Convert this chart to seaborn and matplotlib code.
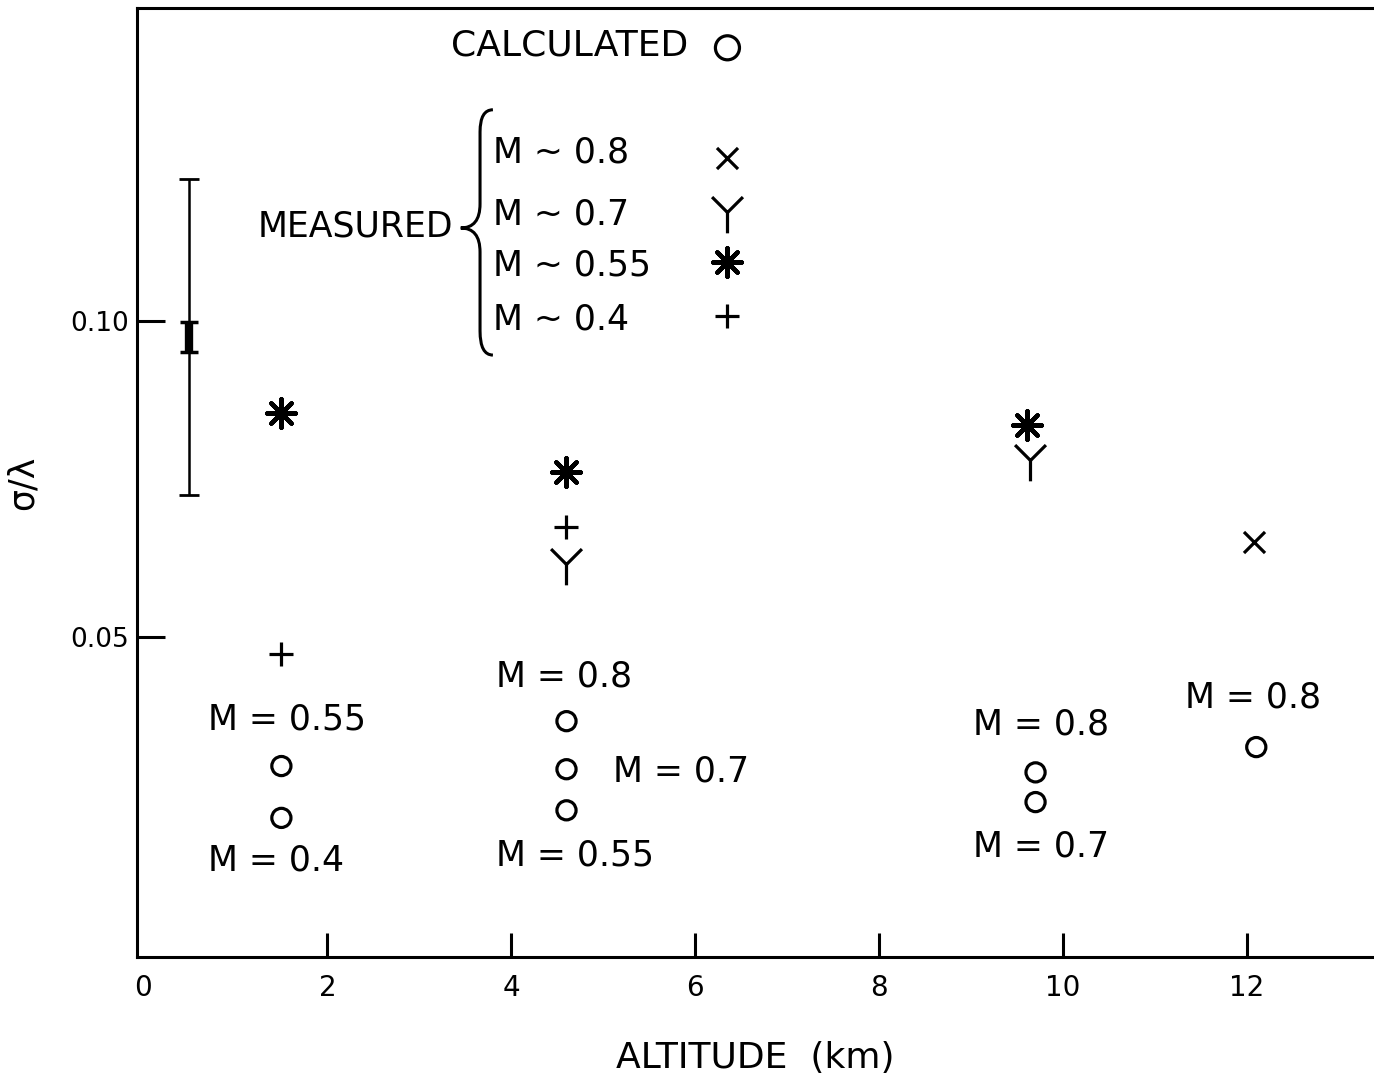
# sigma/lambda vs altitude, calculated vs measured
import numpy as np
import pandas as pd
import matplotlib
matplotlib.use("Agg")
import matplotlib.pyplot as plt
from matplotlib.path import Path
import matplotlib.patches as mpatches
import seaborn as sns

# --- data ---
calc_alt = [1.5, 1.5, 4.6, 4.6, 4.6, 9.7, 9.7, 12.1]
calc_sig = [0.0296, 0.0214, 0.0367, 0.0291, 0.0226, 0.0286, 0.0239, 0.0326]

m08_alt = [12.07]
m08_sig = [0.0650]
m07_alt = [4.6, 9.64]
m07_sig = [0.0616, 0.0780]
m055_alt = [1.5, 4.6, 9.61]
m055_sig = [0.0854, 0.0761, 0.0835]
m04_alt = [1.5, 4.6]
m04_sig = [0.0473, 0.0674]

# error bar near the ground
err_alt = [0.5]
err_lo, err_hi = 0.0725, 0.1225
bold_lo, bold_hi = 0.0951, 0.0998

xtick_vals = [0, 2, 4, 6, 8, 10, 12]
ytick_vals = [0.05, 0.10]
ytick_labels = ["0.05", "0.10"]

# labels next to calculated points: (text, x, y)
calc_notes = [
    ("M = 0.55", 0.70, 0.0369),
    ("M = 0.4", 0.70, 0.0147),
    ("M = 0.8", 3.83, 0.0438),
    ("M = 0.7", 5.11, 0.0288),
    ("M = 0.55", 3.83, 0.0155),
    ("M = 0.8", 9.02, 0.0362),
    ("M = 0.7", 9.02, 0.0168),
    ("M = 0.8", 11.33, 0.0405),
]

# key entries
key_labels = ["M ~ 0.8", "M ~ 0.7", "M ~ 0.55", "M ~ 0.4"]
key_y = [0.1267, 0.1169, 0.1087, 0.1002]
key_mark_y = [0.1258, 0.1172, 0.1093, 0.1008]
key_x = 6.35

sns.set_style("ticks")
plt.rcParams['font.family'] = ['DejaVu Sans']
plt.rcParams['text.color'] = 'black'
plt.rcParams['axes.labelcolor'] = 'black'
INK = "black"
LW = 2.3

# custom Y shaped marker
y_marker = Path([(0, 0), (0, -1.35), (0, 0), (-1, 1), (0, 0), (1, 1)],
                [Path.MOVETO, Path.LINETO, Path.MOVETO, Path.LINETO,
                 Path.MOVETO, Path.LINETO])
star8 = (8, 2, 0)

fig = plt.figure(figsize=(13.74, 10.76), dpi=100)
ax = fig.add_axes([0.0997, 0.1106, 0.9003, 0.882])

# calculated (open circles)
sns.scatterplot(x=calc_alt, y=calc_sig, marker="o", s=190, facecolors="none",
                edgecolor=INK, linewidth=LW, ax=ax)

# measured
sns.scatterplot(x=m08_alt, y=m08_sig, marker="x", s=230, color=INK, linewidth=LW, ax=ax)
sns.scatterplot(x=m07_alt, y=m07_sig, marker=y_marker, s=900, color=INK,
                edgecolor=INK, linewidth=LW, ax=ax)
sns.scatterplot(x=m055_alt, y=m055_sig, marker=star8, s=420, color=INK, linewidth=3.2, ax=ax)
sns.scatterplot(x=m04_alt, y=m04_sig, marker="+", s=300, color=INK, linewidth=LW, ax=ax)

# error bar
mid = (err_lo + err_hi) / 2
ax.errorbar(err_alt, [mid], yerr=[[mid - err_lo], [err_hi - mid]], fmt="none",
            ecolor=INK, elinewidth=1.8, capsize=7, capthick=2)
bmid = (bold_lo + bold_hi) / 2
ax.errorbar(err_alt, [bmid], yerr=[[bmid - bold_lo], [bold_hi - bmid]], fmt="none",
            ecolor=INK, elinewidth=6, capsize=6.5, capthick=2.5)

# key
fs = 25
ax.text(3.34, 0.1435, "CALCULATED", fontsize=26, va="center", ha="left")
ax.scatter([key_x], [0.1432], marker="o", s=300, facecolors="none", edgecolors=INK, linewidths=LW)
ax.text(1.24, 0.1150, "MEASURED", fontsize=fs, va="center", ha="left")
for lab, yy in zip(key_labels, key_y):
    ax.text(3.80, yy, lab, fontsize=fs, va="center", ha="left")
key_marks = [("x", 230, LW), (y_marker, 900, LW), (star8, 420, 3.2), ("+", 300, LW)]
for (mk, sz, lw), yy in zip(key_marks, key_mark_y):
    ax.scatter([key_x], [yy], marker=mk, s=sz, color=INK, linewidths=lw)

# brace
xr, xv, xt = 3.80, 3.66, 3.45
top, midb, bot = 0.1334, 0.1147, 0.0946
brace = Path(
    [(xr, top), (xv, top), (xv, top - 0.0035),
     (xv, midb + 0.0038), (xv, midb), (xt, midb),
     (xv, midb), (xv, midb - 0.0038),
     (xv, bot + 0.0038), (xv, bot), (xr, bot)],
    [Path.MOVETO, Path.CURVE3, Path.CURVE3,
     Path.LINETO, Path.CURVE3, Path.CURVE3,
     Path.CURVE3, Path.CURVE3,
     Path.LINETO, Path.CURVE3, Path.CURVE3])
ax.add_patch(mpatches.PathPatch(brace, fill=False, lw=2.2, color=INK))

for txt, xx, yy in calc_notes:
    ax.text(xx, yy, txt, fontsize=fs, va="center", ha="left")

# axes styling
ax.set_xlim(-0.07, 13.38)
ax.set_ylim(-0.0006, 0.1495)
ax.set_xticks(xtick_vals)
ax.set_yticks(ytick_vals)
ax.set_yticklabels(ytick_labels)
ax.tick_params(axis="x", direction="in", length=17, width=2.2, pad=12, labelsize=20, colors=INK)
ax.tick_params(axis="y", direction="in", length=20, width=2.2, pad=6, labelsize=19, colors=INK)
ax.xaxis.get_major_ticks()[0].tick1line.set_visible(False)
for side in ["left", "bottom", "top"]:
    ax.spines[side].set_visible(True)
    ax.spines[side].set_linewidth(2.2)
    ax.spines[side].set_color(INK)
ax.spines["right"].set_visible(False)

ax.set_xlabel("ALTITUDE  (km)", fontsize=26, labelpad=28)
ax.set_ylabel("σ/λ", fontsize=25, labelpad=22)

fig.savefig("out.png", dpi=100)
